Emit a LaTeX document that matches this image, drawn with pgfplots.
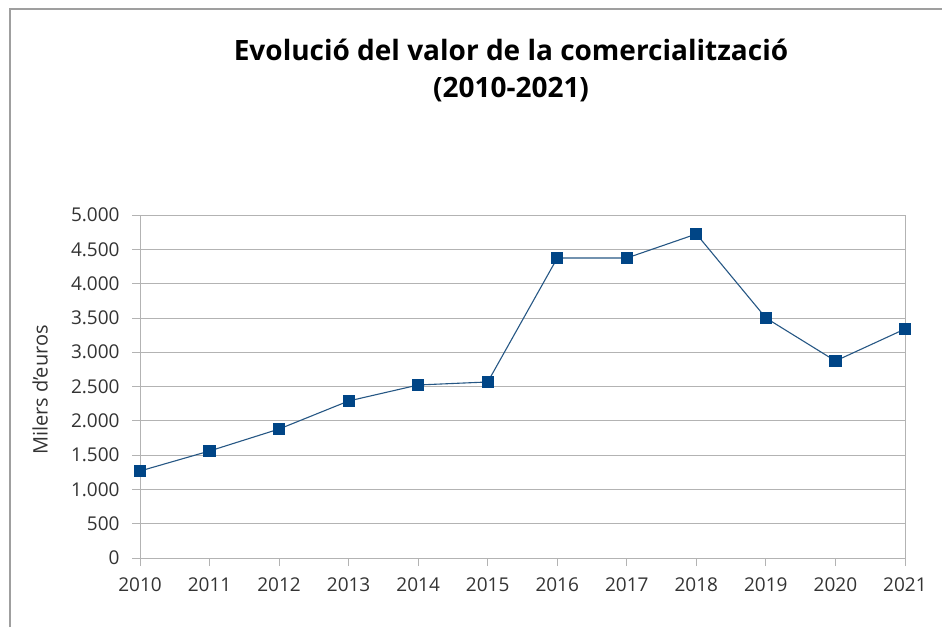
\documentclass[border=0pt]{standalone}
\usepackage{pgfplots}
\pgfplotsset{compat=1.18}
\usepackage{fontspec}
\setmainfont{Open Sans}
\definecolor{ser}{HTML}{004586}
\definecolor{gridc}{HTML}{B3B3B3}
\definecolor{txt}{HTML}{333333}
\begin{document}
\begin{tikzpicture}[x=1pt,y=1pt]
\path[use as bounding box] (0,0) rectangle (942,627);
\draw[gray!75, line width=1.5pt] (10,0) -- (10,618) -- (942,618);
\node[font=\fontsize{28}{32}\selectfont\bfseries] at (511,577) {Evolució del valor de la comercialització};
\node[font=\fontsize{28}{32}\selectfont\bfseries] at (511,537) {(2010-2021)};
\node[rotate=90, font=\fontsize{20}{24}\selectfont, text=txt] at (40,237) {Milers d'euros};
\begin{axis}[at={(140pt,69pt)}, anchor=south west, scale only axis,
  width=765pt, height=343pt,
  xmin=2010, xmax=2021, ymin=0, ymax=5000,
  xtick={2010,...,2021}, ytick={0,500,...,5000},
  /pgf/number format/assume math mode=true,
  /pgf/number format/1000 sep={.},
  xticklabel style={/pgf/number format/1000 sep=},
  tick label style={font=\fontsize{19}{22}\selectfont, text=txt},
  ymajorgrids, grid style={gridc, line width=0.8pt},
  axis line style={gridc, line width=0.8pt},
  tick style={gridc, line width=0.8pt},
  tick align=outside, major tick length=8pt,
  xtick pos=bottom, ytick pos=left,
  xticklabel shift=8pt, yticklabel shift=9pt,
  clip=false,
]
\addplot[color=ser!70!gray, line width=1.1pt, mark=square*, mark size=5.5pt,
  mark options={fill=ser, draw=ser}] coordinates {
(2010,1268) (2011,1560) (2012,1880) (2013,2289) (2014,2522) (2015,2566)
(2016,4373) (2017,4373) (2018,4723) (2019,3499) (2020,2872) (2021,3338)
};
\end{axis}
\end{tikzpicture}
\end{document}
